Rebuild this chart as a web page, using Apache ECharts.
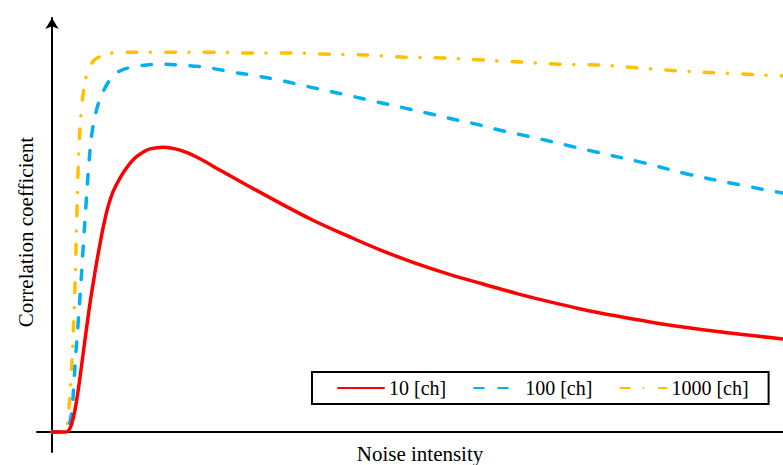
<!DOCTYPE html>
<html>
<head>
<meta charset="utf-8">
<script src="https://cdn.jsdelivr.net/npm/echarts@6/dist/echarts.min.js"></script>
<style>
html,body{margin:0;padding:0;background:#fff;}
#chart{width:783px;height:465px;}
</style>
</head>
<body>
<div id="chart"></div>
<script>
// Series names
var seriesNames = ['10 [ch]', '100 [ch]', '1000 [ch]'];
var xAxisName = 'Noise intensity';
var yAxisName = 'Correlation coefficient';

// 10 [ch]
var x10 = [0, 1.92, 2.33, 2.74, 3.15, 3.69, 4.24, 4.79, 5.20, 5.75, 6.16, 6.57, 6.98, 7.66, 8.34, 9.30, 10.26, 11.35, 12.45, 13.41, 15.18, 17.51, 19.84, 23.39, 26.68, 31.19, 35.70, 40.36, 44.87, 49.38, 54.04, 58.96, 63.61, 68.13, 72.64, 77.29, 81.81, 86.32, 91.01, 95.49, 100];
var y10 = [0, 0, 0.005, 0.022, 0.053, 0.113, 0.185, 0.257, 0.309, 0.369, 0.412, 0.451, 0.489, 0.540, 0.576, 0.609, 0.635, 0.657, 0.671, 0.679, 0.683, 0.676, 0.659, 0.624, 0.592, 0.549, 0.508, 0.471, 0.437, 0.407, 0.380, 0.355, 0.332, 0.312, 0.294, 0.278, 0.264, 0.252, 0.241, 0.232, 0.223];

// 100 [ch]
var x100 = [0, 1.92, 2.19, 2.46, 2.74, 3.01, 3.28, 3.56, 3.97, 4.24, 4.65, 5.06, 5.47, 6.02, 6.57, 7.25, 7.93, 9.30, 11.08, 14.36, 17.92, 21.61, 24.76, 28.04, 31.60, 34.88, 38.03, 41.18, 44.60, 48.02, 51.30, 54.45, 57.87, 61.01, 64.43, 67.72, 70.86, 74.56, 80.85, 86.87, 93.16, 100];
var y100 = [0, 0, 0.005, 0.024, 0.053, 0.120, 0.192, 0.257, 0.360, 0.436, 0.544, 0.645, 0.717, 0.767, 0.799, 0.825, 0.844, 0.866, 0.875, 0.882, 0.880, 0.873, 0.863, 0.854, 0.842, 0.829, 0.817, 0.805, 0.791, 0.778, 0.765, 0.752, 0.739, 0.725, 0.712, 0.699, 0.686, 0.671, 0.646, 0.619, 0.596, 0.573];

// 1000 [ch]
var x1000 = [0, 1.92, 2.05, 2.19, 2.46, 2.74, 3.01, 3.15, 3.28, 3.42, 3.56, 3.76, 3.97, 4.24, 4.79, 5.47, 6.16, 8.34, 12.04, 16.55, 21.61, 27.09, 32.56, 38.03, 43.50, 48.56, 53.49, 58.96, 64.43, 69.49, 74.97, 80.44, 85.91, 91.42, 100];
var y1000 = [0, 0, 0.010, 0.034, 0.089, 0.168, 0.281, 0.353, 0.436, 0.532, 0.624, 0.705, 0.763, 0.808, 0.859, 0.885, 0.897, 0.909, 0.911, 0.911, 0.911, 0.909, 0.909, 0.906, 0.904, 0.899, 0.897, 0.892, 0.887, 0.882, 0.880, 0.873, 0.866, 0.861, 0.854];

function pairs(xs, ys) {
  var out = [];
  for (var i = 0; i < xs.length; i++) out.push([xs[i], ys[i]]);
  return out;
}

var chart = echarts.init(document.getElementById('chart'), null, {renderer: 'svg'});
var serif = "'Liberation Serif', serif";
chart.setOption({
  animation: false,
  backgroundColor: '#ffffff',
  grid: {left: 37, right: 0, top: 18, bottom: 13, containLabel: false},
  xAxis: {
    type: 'value', min: -2.05, max: 100,
    axisLine: {show: true, onZero: true, lineStyle: {color: '#000', width: 2}},
    axisTick: {show: false}, axisLabel: {show: false}, splitLine: {show: false}
  },
  yAxis: {
    type: 'value', min: -0.048, max: 0.993,
    axisLine: {show: true, onZero: true, symbol: ['none', 'arrow'], symbolSize: [10, 11], lineStyle: {color: '#000', width: 2}},
    axisTick: {show: false}, axisLabel: {show: false}, splitLine: {show: false}
  },
  legend: {
    left: 312, top: 372,
    orient: 'horizontal',
    itemWidth: 46, itemHeight: 14, itemGap: 27,
    borderColor: '#000', borderWidth: 2, borderRadius: 0,
    padding: [6, 20, 6, 25],
    itemStyle: {opacity: 0, color: 'transparent', borderWidth: 0},
    textStyle: {fontFamily: serif, fontSize: 20, color: '#000'},
    data: seriesNames
  },
  graphic: [
    {type: 'text', x: 26, y: 232, rotation: Math.PI / 2,
     style: {text: yAxisName, fontFamily: serif, fontSize: 21, fill: '#000', textAlign: 'center', textVerticalAlign: 'middle'}},
    {type: 'text', x: 420, y: 454,
     style: {text: xAxisName, fontFamily: serif, fontSize: 21, fill: '#000', textAlign: 'center', textVerticalAlign: 'middle'}}
  ],
  series: [
    {name: seriesNames[0], type: 'line', data: pairs(x10, y10), smooth: 0.4, symbol: 'none', z: 3,
     itemStyle: {color: '#FF0000'},
     lineStyle: {color: '#FF0000', width: 3.5, cap: 'round', join: 'round'}},
    {name: seriesNames[1], type: 'line', data: pairs(x100, y100), smooth: 0.4, symbol: 'none', z: 2,
     itemStyle: {color: '#00B0F0'},
     lineStyle: {color: '#00B0F0', width: 3.5, type: [9.5, 14.5], cap: 'round', join: 'round'}},
    {name: seriesNames[2], type: 'line', data: pairs(x1000, y1000), smooth: 0.4, symbol: 'none', z: 1,
     itemStyle: {color: '#FFC000'},
     lineStyle: {color: '#FFC000', width: 3.5, type: [9.5, 13.5, 0.01, 15.5], cap: 'round', join: 'round'}}
  ]
});
</script>
</body>
</html>
